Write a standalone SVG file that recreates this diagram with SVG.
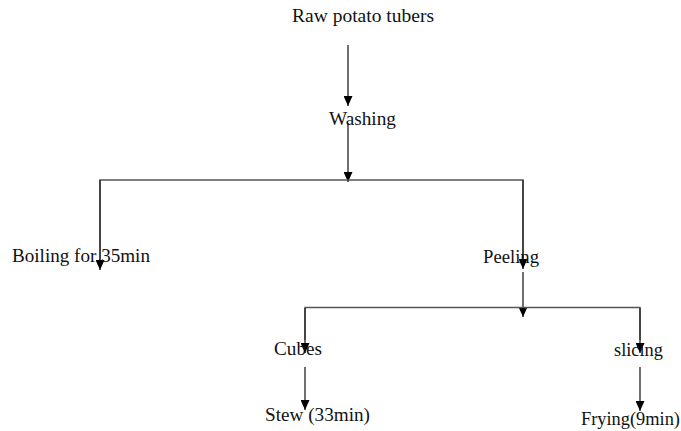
<svg xmlns="http://www.w3.org/2000/svg" width="681" height="431" viewBox="0 0 681 431">
<style>
text{font-family:"Liberation Serif","Times New Roman",serif;font-size:18.5px;fill:#111}
.ln{stroke:#222;stroke-width:1.3;fill:none}
.h{stroke:#555;stroke-width:1.4;fill:none}
</style>
<defs>
<marker id="ah" markerUnits="userSpaceOnUse" markerWidth="11" markerHeight="9" refX="10" refY="4.5" orient="auto" viewBox="0 0 11 9">
<path d="M0,0 L10,4.5 L0,9 Z" fill="#000"/>
</marker>
</defs>
<rect width="681" height="431" fill="#fff"/>
<g id="connectors">
<line class="ln" x1="348" y1="45" x2="348" y2="106" marker-end="url(#ah)"/>
<line class="ln" x1="348" y1="123" x2="348" y2="182" marker-end="url(#ah)"/>
<polyline class="h" points="100,260 100,180 523,180 523,260"/>
<line class="ln" x1="100" y1="180" x2="100" y2="270" marker-end="url(#ah)"/>
<line class="ln" x1="523" y1="180" x2="523" y2="269" marker-end="url(#ah)"/>
<line class="ln" x1="523" y1="272" x2="523" y2="317" marker-end="url(#ah)"/>
<polyline class="h" points="305,340 305,307.5 640,307.5 640,340"/>
<line class="ln" x1="305" y1="308" x2="305" y2="353" marker-end="url(#ah)"/>
<line class="ln" x1="640" y1="308" x2="640" y2="353" marker-end="url(#ah)"/>
<line class="ln" x1="305" y1="367" x2="305" y2="410" marker-end="url(#ah)"/>
<line class="ln" x1="640" y1="367" x2="640" y2="411" marker-end="url(#ah)"/>
</g>
<g id="raw"><text x="292" y="22" textLength="142" lengthAdjust="spacingAndGlyphs">Raw potato tubers</text></g>
<g id="washing"><text x="329" y="125" textLength="67" lengthAdjust="spacingAndGlyphs">Washing</text></g>
<g id="boiling"><text x="12" y="262" textLength="138" lengthAdjust="spacingAndGlyphs">Boiling for 35min</text></g>
<g id="peeling"><text x="483" y="263" textLength="56" lengthAdjust="spacingAndGlyphs">Peeling</text></g>
<g id="cubes"><text x="274" y="355" textLength="48" lengthAdjust="spacingAndGlyphs">Cubes</text></g>
<g id="slicing"><text x="614" y="356" textLength="49" lengthAdjust="spacingAndGlyphs">slicing</text></g>
<g id="stew"><text x="265" y="421" textLength="105" lengthAdjust="spacingAndGlyphs">Stew (33min)</text></g>
<g id="frying"><text x="581" y="425" textLength="99" lengthAdjust="spacingAndGlyphs">Frying(9min)</text></g>
</svg>
